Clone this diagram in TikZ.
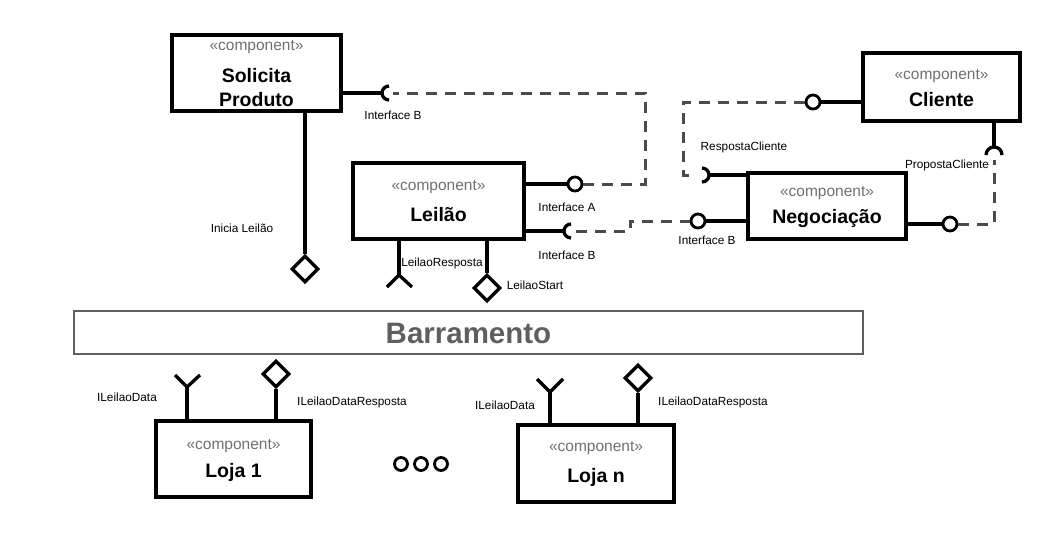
\documentclass[tikz,border=0pt]{standalone}
\usepackage{fontspec}
\setmainfont{Liberation Sans}
\usetikzlibrary{shapes.geometric}
\definecolor{stereo}{RGB}{112,112,112}
\definecolor{busgray}{RGB}{95,95,95}
\definecolor{dashgray}{RGB}{75,75,75}
\tikzset{
  comp/.style={draw=black, line width=3.3pt, rectangle, inner sep=0pt, fill=white},
  stereotxt/.style={font=\fontsize{15.5}{18}\selectfont, text=stereo, inner sep=0pt},
  titletxt/.style={font=\fontsize{19.5}{23}\selectfont\bfseries, inner sep=0pt, align=center},
  lbl/.style={font=\fontsize{11.8}{14}\selectfont, inner sep=0pt},
  solidln/.style={draw=black, line width=3.3pt},
  dashln/.style={draw=dashgray, line width=3pt, dash pattern=on 11pt off 8pt},
  provided/.style={circle, draw=black, line width=2.8pt, minimum size=14pt, inner sep=0pt, fill=white},
  sockarc/.style={draw=black, line width=3.3pt},
  portdia/.style={diamond, draw=black, line width=3.3pt, minimum width=27pt, minimum height=27pt, inner sep=0pt, fill=white},
  dotc/.style={circle, draw=black, line width=2.8pt, minimum size=13pt, inner sep=0pt},
}
\begin{document}
\begin{tikzpicture}[x=1pt,y=-1pt]
\useasboundingbox (0,0) rectangle (1060,536);

% ---------- boxes ----------
\node[comp, minimum width=169pt, minimum height=76pt] (sp) at (256.5,73) {};
\node[stereotxt] (spS) at (256.5,47) {«component»};
\node[titletxt] (spT1) at (256.5,76) {Solicita};
\node[titletxt] (spT2) at (256.5,100) {Produto};

\node[comp, minimum width=171pt, minimum height=76pt] (le) at (438.5,201) {};
\node[stereotxt] (leS) at (438.5,187) {«component»};
\node[titletxt] (leT) at (438.5,215) {Leilão};

\node[comp, minimum width=157pt, minimum height=68pt] (cl) at (941.5,87) {};
\node[stereotxt] (clS) at (941.5,76) {«component»};
\node[titletxt] (clT) at (941.5,100) {Cliente};

\node[comp, minimum width=158pt, minimum height=66pt] (ne) at (827,206) {};
\node[stereotxt] (neS) at (827,193) {«component»};
\node[titletxt] (neT) at (827,218) {Negociação};

\node[draw=busgray, line width=2.8pt, rectangle, inner sep=0pt, minimum width=789pt, minimum height=43pt] (ba) at (468.5,332.5) {};
\node[font=\fontsize{29.5}{34}\selectfont\bfseries, text=busgray, inner sep=0pt] (baT) at (468.5,333) {Barramento};

\node[comp, minimum width=155pt, minimum height=76pt] (l1) at (233.5,459) {};
\node[stereotxt] (l1S) at (233.5,446) {«component»};
\node[titletxt] (l1T) at (233.5,472) {Loja 1};

\node[comp, minimum width=156pt, minimum height=77pt] (ln) at (596,463.5) {};
\node[stereotxt] (lnS) at (596,448) {«component»};
\node[titletxt] (lnT) at (596,477) {Loja n};

% ---------- Solicita Produto: required Interface B ----------
\coordinate (sbC) at (389,93);
\coordinate (sbL) at (382,93);
\coordinate (sbR) at (393,93);
\draw[solidln] (sbL -| sp.east) -- (sbL);
\draw[sockarc] (sbC) ++(90:7) arc (90:270:7);
\node[lbl] (sbLbl) at (393,115) {Interface B};

% ---------- Leilao: provided Interface A ----------
\node[provided] (ia) at (575,184) {};
\draw[solidln] (ia -| le.east) -- (ia.west);
\node[lbl] (iaLbl) at (567,207) {Interface A};
\coordinate (k1) at (645,93);
\draw[dashln] (ia.east) -| (k1) -- (sbR);

% ---------- Leilao: required Interface B ----------
\coordinate (lbC) at (571,231);
\coordinate (lbL) at (564,231);
\coordinate (lbR) at (576,231);
\draw[solidln] (lbL -| le.east) -- (lbL);
\draw[sockarc] (lbC) ++(90:7) arc (90:270:7);
\node[lbl] (lbLbl) at (567,255) {Interface B};

% ---------- Negociacao: provided Interface B ----------
\node[provided] (nb) at (698,221) {};
\draw[solidln] (nb.east) -- (nb -| ne.west);
\node[lbl] (nbLbl) at (707,240) {Interface B};
\coordinate (k2) at (630,221);
\draw[dashln] (lbR) -| (k2) -- (nb.west);

% ---------- Cliente: provided RespostaCliente ----------
\node[provided] (rc) at (813,102) {};
\draw[solidln] (rc.east) -- (rc -| cl.west);
\node[lbl] (rcLbl) at (744,147) {RespostaCliente};

% ---------- Negociacao: required RespostaCliente ----------
\coordinate (nsC) at (702,175);
\coordinate (nsR) at (709,175);
\coordinate (nsL) at (696,175);
\draw[sockarc] (nsC) ++(-90:7) arc (-90:90:7);
\draw[solidln] (nsR) -- (nsR -| ne.west);
\coordinate (k3) at (683,102);
\draw[dashln] (rc.west) -- (k3) |- (nsL);

% ---------- Cliente: required PropostaCliente ----------
\coordinate (pcC) at (994,155);
\coordinate (pcT) at (994,147);
\coordinate (pcB) at (994,160);
\draw[solidln] (pcT |- cl.south) -- (pcT);
\draw[sockarc] (pcC) ++(180:8) arc (180:360:8);
\node[lbl] (pcLbl) at (947,165) {PropostaCliente};

% ---------- Negociacao: provided PropostaCliente ----------
\node[provided] (pn) at (950,224) {};
\draw[solidln] (pn -| ne.east) -- (pn.west);
\draw[dashln] (pn.east) -| (pcB);

% ---------- Solicita Produto: Inicia Leilao ----------
\node[portdia] (d1) at (305,269) {};
\draw[solidln] (d1 |- sp.south) -- (d1.north);
\node[lbl] (d1Lbl) at (242,228) {Inicia Leilão};

% ---------- Leilao ports ----------
\coordinate (f1) at (399,275);
\coordinate (f1a) at (387,287);
\coordinate (f1b) at (412,287);
\draw[solidln] (f1 |- le.south) -- (f1);
\draw[solidln, line join=miter] (f1a) -- (f1) -- (f1b);
\node[lbl] (f1Lbl) at (442,263) {LeilaoResposta};

\node[portdia] (d2) at (487,288) {};
\draw[solidln] (d2 |- le.south) -- (d2.north);
\node[lbl] (d2Lbl) at (535,285) {LeilaoStart};

% ---------- Loja 1 ports ----------
\coordinate (f2) at (187,387);
\coordinate (f2a) at (175,375);
\coordinate (f2b) at (200,375);
\draw[solidln] (f2 |- l1.north) -- (f2);
\draw[solidln, line join=miter] (f2a) -- (f2) -- (f2b);
\node[lbl] (f2Lbl) at (127,397) {ILeilaoData};

\node[portdia] (d3) at (276,374) {};
\draw[solidln] (d3 |- l1.north) -- (d3.south);
\node[lbl] (d3Lbl) at (352,402) {ILeilaoDataResposta};

% ---------- Loja n ports ----------
\coordinate (f3) at (550,392);
\coordinate (f3a) at (537,379);
\coordinate (f3b) at (563,379);
\draw[solidln] (f3 |- ln.north) -- (f3);
\draw[solidln, line join=miter] (f3a) -- (f3) -- (f3b);
\node[lbl] (f3Lbl) at (505,405) {ILeilaoData};

\node[portdia] (d4) at (638,378) {};
\draw[solidln] (d4 |- ln.north) -- (d4.south);
\node[lbl] (d4Lbl) at (713,402) {ILeilaoDataResposta};

% ---------- dots ----------
\node[dotc] (o1) at (401,464) {};
\node[dotc] (o2) at (421,464) {};
\node[dotc] (o3) at (441,464) {};
\end{tikzpicture}
\end{document}
